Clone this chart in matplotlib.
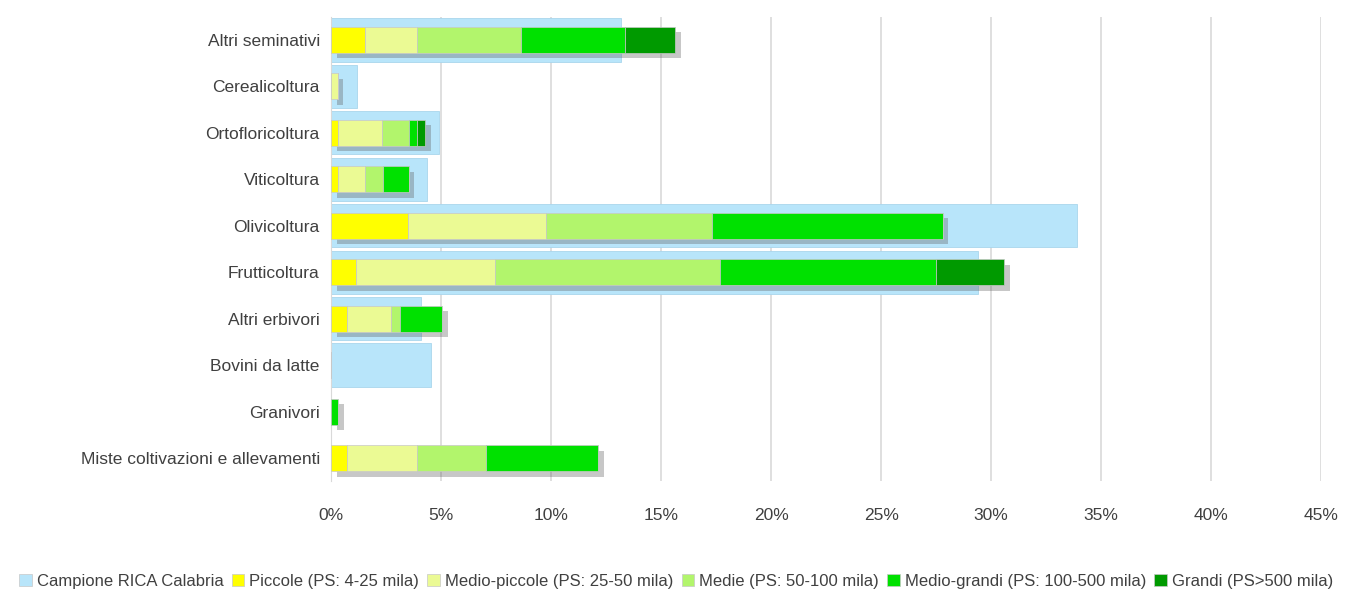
import matplotlib.pyplot as plt
import matplotlib.patheffects as pe
from matplotlib.patches import Patch
import numpy as np

categorie = ['Altri seminativi', 'Cerealicoltura', 'Ortofloricoltura', 'Viticoltura',
             'Olivicoltura', 'Frutticoltura', 'Altri erbivori', 'Bovini da latte',
             'Granivori', 'Miste coltivazioni e allevamenti']

# quote percentuali per OTE
campione = [13.2, 1.2, 4.9, 4.35, 33.9, 29.4, 4.1, 4.55, 0.0, 0.0]
piccole = [1.55, 0.0, 0.33, 0.33, 3.5, 1.15, 0.75, 0.0, 0.0, 0.75]
medio_piccole = [2.35, 0.3, 2.0, 1.2, 6.25, 6.3, 2.0, 0.0, 0.0, 3.15]
medie = [4.75, 0.0, 1.2, 0.85, 7.55, 10.25, 0.4, 0.0, 0.0, 3.15]
medio_grandi = [4.7, 0.0, 0.4, 1.15, 10.5, 9.8, 1.9, 0.0, 0.33, 5.1]
grandi = [2.3, 0.0, 0.35, 0.0, 0.0, 3.1, 0.0, 0.0, 0.0, 0.0]

etichette = ['Campione RICA Calabria', 'Piccole (PS: 4-25 mila)', 'Medio-piccole (PS: 25-50 mila)',
             'Medie (PS: 50-100 mila)', 'Medio-grandi (PS: 100-500 mila)', 'Grandi (PS>500 mila)']
colori = ['#b8e5fa', '#ffff00', '#ebfa94', '#b2f56c', '#00e100', '#009a00']

plt.rcParams['font.family'] = ['Liberation Sans', 'DejaVu Sans']

fig = plt.figure(figsize=(13.62, 5.97), dpi=100)
ax = fig.add_axes([0.243, 0.194, 0.727, 0.778])

y = np.arange(len(categorie))
ax.barh(y, campione, height=0.93, color=colori[0], edgecolor='#a9d6ec', linewidth=0.6, zorder=2)

ombra = [pe.SimplePatchShadow(offset=(4, -4), shadow_rgbFace='#606060', alpha=0.35), pe.Normal()]
sinistra = np.zeros(len(categorie))
for serie, col in zip([piccole, medio_piccole, medie, medio_grandi, grandi], colori[1:]):
    vals = np.array(serie)
    barre = ax.barh(y, vals, left=sinistra, height=0.56, color=col, edgecolor='#c8c8c8',
                    linewidth=0.5, zorder=3)
    for b, v in zip(barre, vals):
        if v > 0:
            b.set_path_effects(ombra)
    sinistra += vals

ax.set_xlim(0, 45)
ax.set_ylim(len(categorie) - 0.5, -0.5)
ax.set_xticks(np.arange(0, 46, 5))
ax.set_xticklabels([f'{t}%' for t in range(0, 46, 5)])
ax.set_yticks(y)
ax.set_yticklabels(categorie)
ax.tick_params(axis='both', length=0, labelsize=12.5, colors='#404040')
ax.tick_params(axis='x', pad=19)
ax.tick_params(axis='y', pad=8)
ax.grid(axis='x', color='#d9d9d9', linewidth=1.2, zorder=0)
ax.set_axisbelow(True)
for s in ['top', 'right', 'bottom']:
    ax.spines[s].set_visible(False)
ax.spines['left'].set_color('#d9d9d9')

maniglie = [Patch(facecolor=c, edgecolor='#c8c8c8', linewidth=0.5) for c in colori]
fig.legend(maniglie, etichette, loc='lower left', bbox_to_anchor=(0.003, -0.012), ncol=6,
           frameon=False, handlelength=0.75, handleheight=0.75, handletextpad=0.3,
           columnspacing=0.5, fontsize=12, labelcolor='#404040')

fig.savefig('out.png', dpi=100)
